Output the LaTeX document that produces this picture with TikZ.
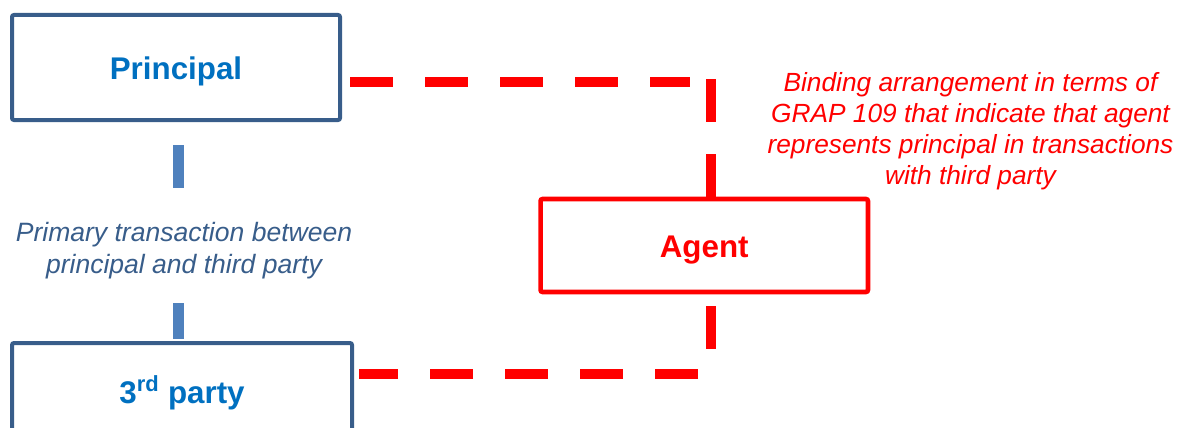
\documentclass[tikz,border=0pt]{standalone}
\usepackage{fontspec}
\setmainfont{Liberation Sans}
\definecolor{boxblue}{RGB}{56,93,138}
\definecolor{headblue}{RGB}{0,112,192}
\definecolor{linkblue}{RGB}{79,129,189}
\definecolor{bindred}{RGB}{255,0,0}

\begin{document}
\begin{tikzpicture}[x=0.75pt,y=0.75pt,yscale=-1,xscale=1,
  partybox/.style={draw=boxblue, line width=3pt, rounded corners=1.5pt, inner sep=0pt,
    text=headblue, font=\bfseries\fontsize{23.5}{28}\selectfont, text height=18.5pt, text depth=0pt},
  agentbox/.style={partybox, draw=bindred, line width=3.4pt, text=bindred},
  notetext/.style={text=bindred, font=\itshape\fontsize{19.7}{23.2}\selectfont, align=center, inner sep=0pt},
  tradetext/.style={notetext, text=boxblue, font=\itshape\fontsize{19.9}{24}\selectfont},
  reddash/.style={draw=bindred, line width=7.5pt, dash pattern=on 32.25pt off 24pt},
  bluelink/.style={draw=linkblue, line width=7.8pt}]
\useasboundingbox (0,0) rectangle (1185,428);

%Shape: Rectangle [principal]
\node[partybox, minimum width=246pt, minimum height=78.75pt] (principal) at (176,67.5) {Principal};
%Shape: Rectangle [agent]
\node[agentbox, minimum width=245.6pt, minimum height=69.75pt] (agent) at (704.25,245.5) {Agent};
%Shape: Rectangle [third party]
\node[partybox, minimum width=255pt, minimum height=72pt] (third) at (182,391) {3\textsuperscript{rd} party};

%Text Node
\node[notetext] (binding) at (970.5,131) {Binding arrangement in terms of\\GRAP 109 that indicate that agent\\represents principal in transactions\\with third party};
%Text Node
\node[tradetext] (primary) at (184,251) {Primary transaction between\\principal and third party};

\coordinate (bindtop) at (711,82.5);
\coordinate (bindbot) at (711,373.5);
\coordinate (tradeup) at (178.5,188);
\coordinate (tradedn) at (178.5,303);

%Straight Lines [binding arrangement]
\draw[reddash, shorten <=6pt, shorten >=15.75pt] (principal.east |- bindtop) -- (bindtop);
\draw[reddash, shorten <=-2.6pt] (bindtop) -- (bindtop |- agent.north);
\draw[reddash, shorten <=9pt] (agent.south -| bindbot) -- (bindbot);
\draw[reddash, shorten <=9.75pt, shorten >=3.75pt] (bindbot) -- (third.east |- bindbot);
%Straight Lines [primary transaction]
\draw[bluelink, shorten <=17.25pt] (principal.south -| tradeup) -- (tradeup);
\draw[bluelink, shorten >=1.5pt] (tradedn) -- (third.north -| tradedn);

\end{tikzpicture}
\end{document}
